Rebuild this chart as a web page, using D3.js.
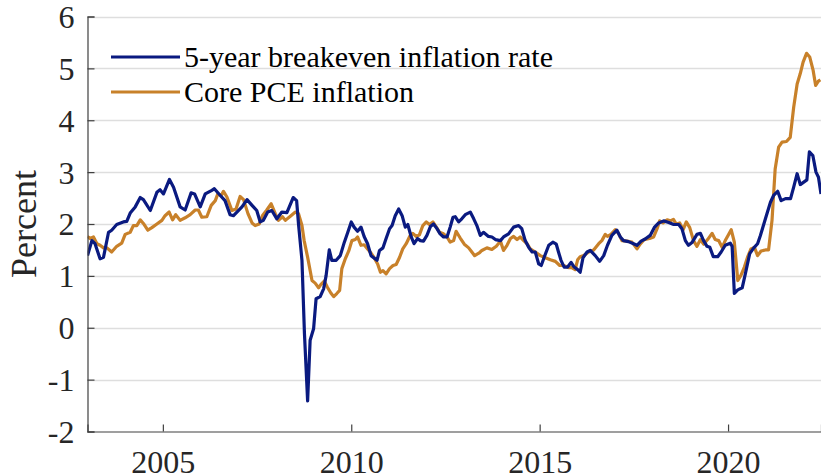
<!DOCTYPE html>
<html><head><meta charset="utf-8">
<script src="https://cdn.jsdelivr.net/npm/d3@7"></script>
<style>body{margin:0;background:#fff} svg{display:block}</style>
</head><body>
<svg id="chart" width="821" height="476"></svg>
<script>
// Months since January 2003, and values in percent
const breakevenMonths = [0,1.4,2.4,4,5.1,6.7,7.7,9.3,11.4,12.5,13.6,15.2,16.8,17.8,20,22.1,23.1,24.2,26.1,27.4,29.5,31.1,33,34.1,35.9,37.5,39.6,40.4,42.3,43.8,45.4,46.5,49.2,50.8,52.4,53.9,55,56,57.4,58.7,60.3,61.9,63.5,65.5,66.6,67.2,68.3,69.1,70.1,70.9,72,72.8,74.1,75.2,76,77,77.8,79.2,80.5,81.8,82.9,84,84.9,86,87.1,88.1,89.2,90.3,92.2,93,94.1,95.1,96.2,97,98,99.1,100.2,101.2,102,103.1,104,105.1,106,107,108.1,109.2,110.2,111.3,112.3,113.4,114.5,115.5,116.4,117.1,118.2,119.2,120.3,121.9,123,124,125.1,126.1,127.7,128.8,129.9,131.5,132.5,134.1,135.7,137.3,138.3,139.4,140.5,141.6,142.6,143.7,144.5,145.5,146.9,148.2,149.3,150,150.8,151.8,152.9,154,155,156.1,156.9,157.8,159.1,160.1,161.7,163.1,164.4,165.6,167,168.6,169.7,170.7,172.3,173.9,175,176.3,177.6,179.2,180.6,181.9,183.5,185.1,186.7,188.3,189.3,190.4,191.4,192.6,194.1,195.2,196.2,197.3,198.2,199.3,200.7,201.8,203.1,204.7,205.3,206,207.1,208.5,209.5,210.9,212.2,213.4,214.3,215.9,217.5,218.5,219.8,220.9,222.3,223.9,224.9,226,227,229.1,229.9,231,232,232.8,233.6];
const breakevenValues = [1.39,1.68,1.62,1.33,1.36,1.84,1.88,1.99,2.04,2.05,2.21,2.33,2.51,2.47,2.26,2.61,2.66,2.58,2.86,2.71,2.33,2.27,2.60,2.58,2.33,2.58,2.65,2.68,2.55,2.45,2.18,2.16,2.33,2.47,2.36,2.26,2.04,2.07,2.23,2.26,2.10,2.23,2.22,2.51,2.45,2.00,1.30,-0.12,-1.41,-0.24,-0.02,0.56,0.60,0.75,1.01,1.50,1.30,1.30,1.39,1.65,1.84,2.04,1.94,1.86,1.94,1.76,1.62,1.39,1.30,1.49,1.54,1.72,1.91,1.97,2.16,2.29,2.16,1.94,1.99,1.75,1.62,1.72,1.68,1.67,1.78,1.95,2.00,1.91,1.81,1.75,1.75,1.94,2.13,2.14,2.04,2.10,2.18,2.23,2.10,1.97,1.78,1.84,1.76,1.75,1.70,1.68,1.75,1.81,1.94,1.97,1.91,1.68,1.55,1.46,1.46,1.23,1.20,1.37,1.59,1.65,1.61,1.46,1.30,1.17,1.17,1.26,1.17,1.12,1.07,1.35,1.46,1.49,1.39,1.28,1.39,1.59,1.78,1.88,1.75,1.68,1.66,1.62,1.59,1.67,1.71,1.78,1.94,2.02,2.06,2.03,1.99,1.99,1.91,1.68,1.59,1.65,1.80,1.82,1.68,1.57,1.55,1.37,1.37,1.46,1.59,1.63,1.57,0.66,0.73,0.77,1.04,1.43,1.54,1.62,1.78,2.10,2.42,2.55,2.63,2.45,2.49,2.49,2.71,2.97,2.76,2.85,3.39,3.32,3.00,2.90,2.58];

const pceMonths = [0,0.8,1.9,3,4,5.1,6.2,7.7,9.3,10.9,12,13.6,14.6,15.7,16.8,17.8,19.2,20.5,22.1,23.7,24.7,26,27.1,28.1,29.5,31.1,32.7,34.3,35.3,36.4,38,39.4,40.7,41.5,42.6,43.3,44.4,46,47.3,48.6,49.7,51.1,52.4,53.4,54.7,55.7,57.1,58.5,59.8,60.8,62.1,63,64.6,66.2,67.2,68.3,69,70.1,71.5,72.5,73.6,74.3,75.4,76.4,77.5,78.4,79.4,80.3,81,82.1,83.2,84.2,85.3,86,87.1,88.1,89.2,90.3,91.3,92.4,93.3,94.1,95.1,96.2,97.3,98.3,99.4,100.4,101.5,102.6,103.6,104.7,105.7,106.8,107.9,108.9,110,111.1,112.1,113.4,114.5,115.5,116.6,117.4,118.7,120,121.4,122.4,123.3,124.9,125.6,127.2,128.8,130.2,131.5,132.5,133.6,134.7,135.7,136.8,137.8,138.9,140,141,142.6,144.2,145.8,147.4,149,150.4,151.6,153.2,154.2,155.3,156.1,156.9,158,159.6,161.2,162.8,163.8,164.9,165.6,166.7,168.1,169.1,170.2,171.8,173.4,175,176,177.3,179,180.3,181.4,182.2,183.3,184.6,185.6,186.6,187.5,188.6,189.7,190.7,191.8,193,194.1,195.2,196.2,197.5,198.9,199.9,201,202.1,203.1,204,205,206,207.1,208.1,209.2,210.2,211.3,212.4,213.4,214.5,215.9,216.9,218,219,220.1,221.2,222.6,223.8,224.9,226,227,227.9,229,230,231.1,231.9,232.7,233.4];
const pceValues = [1.76,1.72,1.75,1.62,1.59,1.54,1.54,1.46,1.57,1.63,1.80,1.84,1.97,1.97,2.08,2.01,1.88,1.93,2.00,2.07,2.16,2.23,2.08,2.18,2.07,2.12,2.18,2.27,2.27,2.13,2.14,2.36,2.45,2.58,2.55,2.63,2.52,2.26,2.29,2.53,2.47,2.20,2.02,1.97,2.00,2.16,2.27,2.39,2.20,2.07,2.14,2.07,2.15,2.23,2.20,1.97,1.68,1.36,0.91,0.86,0.77,0.83,0.90,0.78,0.67,0.60,0.66,0.72,1.14,1.33,1.48,1.68,1.70,1.75,1.59,1.60,1.52,1.44,1.35,1.23,1.07,1.10,1.04,1.14,1.20,1.22,1.36,1.52,1.62,1.76,1.82,1.76,1.79,1.97,2.04,1.99,2.04,1.94,1.84,1.81,1.75,1.65,1.68,1.86,1.73,1.61,1.54,1.46,1.39,1.45,1.49,1.54,1.51,1.57,1.67,1.49,1.59,1.72,1.76,1.70,1.75,1.68,1.62,1.52,1.46,1.39,1.35,1.31,1.28,1.20,1.20,1.16,1.16,1.12,1.31,1.37,1.39,1.46,1.50,1.62,1.68,1.80,1.76,1.80,1.89,1.82,1.68,1.67,1.65,1.52,1.61,1.70,1.72,1.75,1.91,2.06,2.02,2.08,2.06,2.09,2.00,2.02,1.89,2.04,1.93,1.68,1.57,1.70,1.61,1.70,1.82,1.70,1.68,1.55,1.68,1.78,1.89,1.65,0.91,1.01,1.17,1.36,1.52,1.55,1.39,1.48,1.50,1.50,2.07,3.06,3.48,3.58,3.59,3.67,4.25,4.70,4.90,5.12,5.29,5.22,4.96,4.67,4.75,4.78];

const startYear = 2003;
const lastMonth = 233.6;
const yTicks = [-2, -1, 0, 1, 2, 3, 4, 5, 6];
const xTickYears = [2005, 2010, 2015, 2020];
const seriesNames = ["5-year breakeven inflation rate", "Core PCE inflation"];
const seriesColors = ["#0a1a80", "#c8812a"];
const yLabel = "Percent";

const svg = d3.select("#chart");
const W = 821, H = 476;
const pLeft = 87.5, pRight = 821, pTop = 16.5, pBottom = 431.5;
const FONT = "'Liberation Serif', 'Times New Roman', serif";

const x = d3.scaleLinear().domain([0, lastMonth]).range([pLeft, pRight]);
const y = d3.scaleLinear().domain([-2, 6]).range([pBottom, pTop]);

svg.append("rect").attr("width", W).attr("height", H).attr("fill", "#fff");

// gridlines
svg.append("g").selectAll("line").data(yTicks.filter(d => d > -2)).join("line")
  .attr("x1", pLeft).attr("x2", pRight)
  .attr("y1", d => Math.round(y(d)) + 0.5).attr("y2", d => Math.round(y(d)) + 0.5)
  .attr("stroke", "#dedede").attr("stroke-width", 1.3);

svg.append("defs").append("clipPath").attr("id", "clip")
  .append("rect").attr("x", pLeft).attr("y", pTop - 5).attr("width", pRight - pLeft).attr("height", pBottom - pTop + 5);

const line = d3.line().x(d => x(d[0])).y(d => y(d[1]));
const series = [
  d3.zip(breakevenMonths, breakevenValues),
  d3.zip(pceMonths, pceValues)
];
const lines = svg.append("g").attr("clip-path", "url(#clip)");
[1, 0].forEach(i => {
  lines.append("path").datum(series[i])
    .attr("fill", "none").attr("stroke", seriesColors[i])
    .attr("stroke-width", 3.2).attr("stroke-linejoin", "round")
    .attr("d", line);
});

// axes
const yAxis = d3.axisLeft(y).tickValues(yTicks).tickSize(-7).tickPadding(13)
  .tickFormat(d => String(d));
const gy = svg.append("g").attr("transform", `translate(${pLeft},0)`).call(yAxis);
const xAxis = d3.axisBottom(x).tickValues(xTickYears.map(yr => (yr - startYear) * 12))
  .tickSize(-7).tickPadding(19).tickFormat(m => String(startYear + m / 12));
const gx = svg.append("g").attr("transform", `translate(0,${pBottom})`).call(xAxis);

[gx, gy].forEach(g => {
  g.select(".domain").attr("stroke", "#404040").attr("stroke-width", 1.2);
  g.selectAll(".tick line").attr("stroke", "#404040").attr("stroke-width", 1.2);
  g.selectAll("text").attr("fill", "#262626").attr("font-family", FONT).attr("font-size", 32);
});
gy.selectAll("text").attr("dy", "0.34em");
gx.selectAll("text").attr("dy", "0.71em");

svg.append("text")
  .attr("transform", `translate(36, ${(pTop + pBottom) / 2}) rotate(-90)`)
  .attr("text-anchor", "middle")
  .attr("font-family", FONT).attr("font-size", 36).attr("fill", "#262626")
  .text(yLabel);

// legend
const legend = svg.append("g");
seriesNames.forEach((name, i) => {
  const ly = 57 + i * 35;
  legend.append("line").attr("x1", 111).attr("x2", 180).attr("y1", ly).attr("y2", ly)
    .attr("stroke", seriesColors[i]).attr("stroke-width", 3);
  legend.append("text").attr("x", 184).attr("y", ly).attr("dy", "0.33em")
    .attr("font-family", FONT).attr("font-size", 30).attr("fill", "#000")
    .text(name);
});
</script>
</body></html>
